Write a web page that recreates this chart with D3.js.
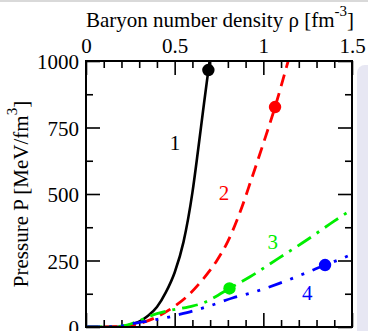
<!DOCTYPE html>
<html>
<head>
<meta charset="utf-8">
<script src="https://cdn.jsdelivr.net/npm/d3@7"></script>
<style>
  html, body { margin: 0; padding: 0; background: #ffffff; }
  svg { display: block; }
  svg text { font-family: 'Liberation Serif', 'DejaVu Serif', serif; }
</style>
</head>
<body>
<svg id="chart" width="368" height="331"></svg>
<script>
// Equation of state curves: pressure vs baryon number density
const curve1Rho = [0, 0.1, 0.15, 0.2, 0.25, 0.3, 0.35, 0.4, 0.45, 0.5, 0.55, 0.6, 0.633, 0.66, 0.69, 0.697];
const curve1P   = [0, 0, 0.5, 2, 8, 20, 42, 75, 130, 205, 320, 505, 670, 812, 966, 1000];

const curve2Rho = [0, 0.1, 0.2, 0.3, 0.4, 0.5, 0.57, 0.65, 0.74, 0.8, 0.87, 0.93, 1.0, 1.066, 1.14];
const curve2P   = [0, 0, 2, 13, 38, 78, 115, 172, 252, 322, 434, 550, 690, 827, 1000];

const curve3Rho = [0, 0.1, 0.2, 0.28, 0.33, 0.4, 0.47, 0.58, 0.66, 0.72, 0.809, 0.925, 1.085, 1.245, 1.395, 1.5];
const curve3P   = [0, 0, 3, 18, 32, 50, 62, 76, 90, 110, 145, 189, 258, 327, 396, 442];

const curve4Rho = [0, 0.1, 0.2, 0.26, 0.38, 0.46, 0.52, 0.6, 0.7, 0.83, 0.94, 1.09, 1.25, 1.348, 1.43, 1.5];
const curve4P   = [0, 0, 4, 12, 26, 36, 46, 60, 80, 110, 130, 164, 206, 233, 254, 274];

// Marked points on each curve
const markerRho = [0.69, 1.066, 0.809, 1.348];
const markerP   = [966, 827, 145, 233];

const curveNames  = ["1", "2", "3", "4"];
const curveColors = ["#000000", "#ff0000", "#00ee00", "#0000ff"];

const xTicks = [0, 0.5, 1, 1.5];
const xTickLabels = ["0", "0.5", "1", "1.5"];
const yTicks = [0, 250, 500, 750, 1000];
const yTickLabels = ["0", "250", "500", "750", "1000"];

// ---- layout ----
const svg = d3.select("#chart");
const m = { left: 86, right: 352, top: 61, bottom: 327 };
const x = d3.scaleLinear().domain([0, 1.5]).range([m.left, m.right]);
const y = d3.scaleLinear().domain([0, 1000]).range([m.bottom, m.top]);
const FONT = 21;
const SERIF = "'Liberation Serif', 'DejaVu Serif', serif";

// thin grey strip along the top edge
svg.append("rect").attr("x", 0).attr("y", 0).attr("width", 368).attr("height", 2).attr("fill", "#d9d9d9");

// side panel
svg.append("rect")
  .attr("x", 357).attr("y", 65).attr("width", 40).attr("height", 300)
  .attr("rx", 8).attr("fill", "#e7e7f3");

svg.append("clipPath").attr("id", "plotclip")
  .append("rect").attr("x", m.left).attr("y", m.top)
  .attr("width", m.right - m.left).attr("height", m.bottom - m.top);

// ---- axes (ticks point inward on all four sides) ----
const xMinor = d3.range(0, 1.5001, 0.1).filter(v => !xTicks.some(t => Math.abs(t - v) < 1e-6));
const yMinor = d3.range(0, 1000.1, 125).filter(v => !yTicks.includes(v));

function styleAxis(g) {
  g.attr("font-family", SERIF).attr("font-size", FONT);
  g.select(".domain").remove();
  g.selectAll("line").attr("stroke", "#000").attr("stroke-width", 1.6);
  g.selectAll("text").attr("fill", "#000");
}

svg.append("g").attr("transform", `translate(0,${m.top})`)
  .call(d3.axisTop(x).tickValues(xTicks).tickSize(-14).tickSizeOuter(0).tickPadding(8)
    .tickFormat((d, i) => xTickLabels[i]))
  .call(styleAxis);
svg.append("g").attr("transform", `translate(0,${m.top})`)
  .call(d3.axisTop(x).tickValues(xMinor).tickSize(-7).tickSizeOuter(0).tickFormat(""))
  .call(styleAxis);
svg.append("g").attr("transform", `translate(0,${m.bottom})`)
  .call(d3.axisBottom(x).tickValues(xTicks).tickSize(-14).tickSizeOuter(0).tickFormat(""))
  .call(styleAxis);
svg.append("g").attr("transform", `translate(0,${m.bottom})`)
  .call(d3.axisBottom(x).tickValues(xMinor).tickSize(-7).tickSizeOuter(0).tickFormat(""))
  .call(styleAxis);

svg.append("g").attr("transform", `translate(${m.left},0)`)
  .call(d3.axisLeft(y).tickValues(yTicks).tickSize(-14).tickSizeOuter(0).tickPadding(7)
    .tickFormat((d, i) => yTickLabels[i]))
  .call(styleAxis)
  .selectAll("text").attr("dy", "0.36em");
svg.append("g").attr("transform", `translate(${m.left},0)`)
  .call(d3.axisLeft(y).tickValues(yMinor).tickSize(-7).tickSizeOuter(0).tickFormat(""))
  .call(styleAxis);
svg.append("g").attr("transform", `translate(${m.right},0)`)
  .call(d3.axisRight(y).tickValues(yTicks).tickSize(-14).tickSizeOuter(0).tickFormat(""))
  .call(styleAxis);
svg.append("g").attr("transform", `translate(${m.right},0)`)
  .call(d3.axisRight(y).tickValues(yMinor).tickSize(-7).tickSizeOuter(0).tickFormat(""))
  .call(styleAxis);

// ---- curves ----
const line = d3.line().x(d => x(d[0])).y(d => y(d[1])).curve(d3.curveMonotoneX);
const curves = [
  { rho: curve1Rho, p: curve1P, dash: null, width: 2.6 },
  { rho: curve2Rho, p: curve2P, dash: "12,7", width: 2.8 },
  { rho: curve3Rho, p: curve3P, dash: "16,7,3,7", width: 2.8 },
  { rho: curve4Rho, p: curve4P, dash: "14,9,3,9,3,9", width: 2.8 }
];

const plot = svg.append("g").attr("clip-path", "url(#plotclip)");
curves.forEach((c, i) => {
  plot.append("path")
    .datum(d3.zip(c.rho, c.p))
    .attr("d", line)
    .attr("fill", "none")
    .attr("stroke", curveColors[i])
    .attr("stroke-width", c.width)
    .attr("stroke-dasharray", c.dash);
});

// markers
svg.append("g").selectAll("circle")
  .data(d3.range(markerRho.length))
  .join("circle")
  .attr("cx", i => x(markerRho[i]))
  .attr("cy", i => y(markerP[i]))
  .attr("r", 6.2)
  .attr("fill", i => curveColors[i]);

// curve labels, placed in data coordinates
const labelAnchors = [[0.502, 665], [0.778, 477], [1.053, 294], [1.247, 101]];
svg.append("g").attr("font-family", SERIF).selectAll("text")
  .data(d3.range(curveNames.length))
  .join("text")
  .attr("x", i => x(labelAnchors[i][0]))
  .attr("y", i => y(labelAnchors[i][1]))
  .attr("text-anchor", "middle")
  .attr("font-size", FONT)
  .attr("fill", i => curveColors[i])
  .text(i => curveNames[i]);

// ---- axis titles ----
const xt = svg.append("text")
  .attr("x", (m.left + m.right) / 2 + 1).attr("y", 27)
  .attr("font-family", SERIF)
  .attr("text-anchor", "middle").attr("font-size", FONT).attr("fill", "#000");
xt.append("tspan").text("Baryon number density ρ [fm");
xt.append("tspan").attr("dy", -11).attr("font-size", 15).text("-3");
xt.append("tspan").attr("dy", 11).text("]");

const yt = svg.append("text")
  .attr("transform", `translate(28,${(m.top + m.bottom) / 2}) rotate(-90)`)
  .attr("font-family", SERIF)
  .attr("text-anchor", "middle").attr("font-size", FONT).attr("fill", "#000");
yt.append("tspan").text("Pressure P [MeV/fm");
yt.append("tspan").attr("dy", -11).attr("font-size", 15).text("3");
yt.append("tspan").attr("dy", 11).text("]");

// frame
svg.append("rect")
  .attr("x", m.left).attr("y", m.top)
  .attr("width", m.right - m.left).attr("height", m.bottom - m.top)
  .attr("fill", "none").attr("stroke", "#000").attr("stroke-width", 2);
</script>
</body>
</html>
